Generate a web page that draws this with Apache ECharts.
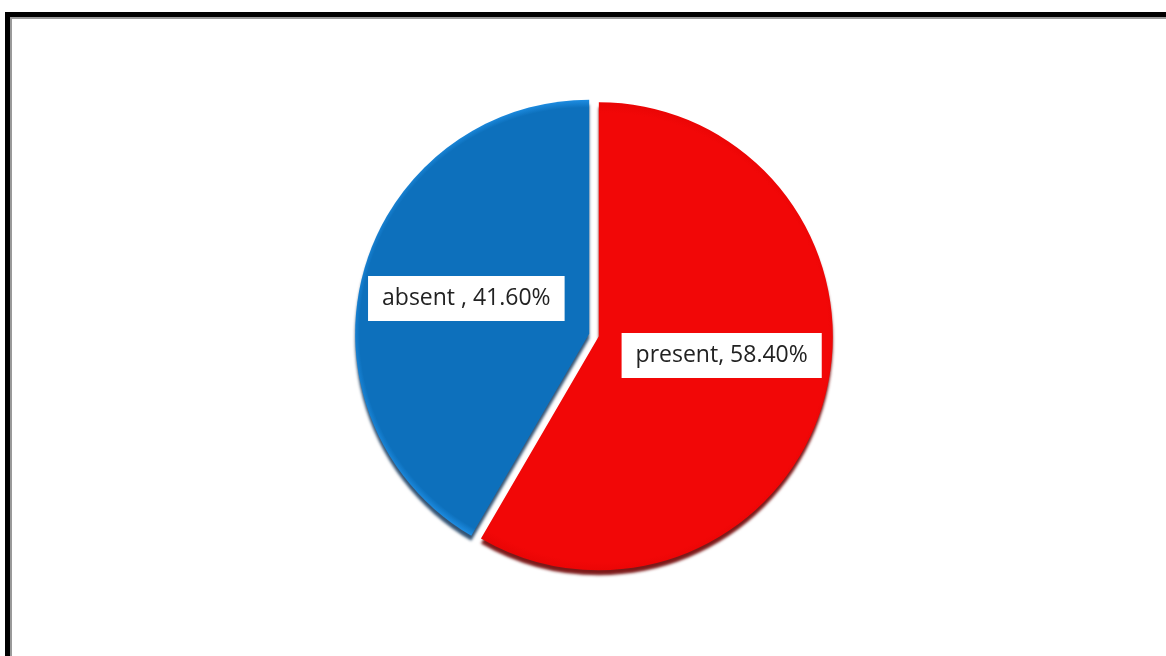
<!DOCTYPE html>
<html>
<head>
<meta charset="utf-8">
<script src="https://cdn.jsdelivr.net/npm/echarts@6/dist/echarts.min.js"></script>
<style>
body { margin: 0; background: #fff; }
#frame { position: absolute; left: 5px; top: 12px; width: 1161px; height: 644px;
	border-top: 5px solid #000; border-left: 5px solid #000; box-sizing: border-box; }
#frame div { width: 100%; height: 100%; border-top: 2px solid #9a9a9a; border-left: 2px solid #9a9a9a; box-sizing: border-box; }
#main { position: absolute; left: 0; top: 0; width: 1166px; height: 656px; }
</style>
</head>
<body>
<div id="frame"><div></div></div>
<div id="main"></div>
<script>
var categories = ['present', 'absent '];
var values = [58.40, 41.60];
var colors = [
	{ inner: '#f20707', outer: '#ea0505', shadow: 'rgba(110,0,0,0.9)' },
	{ inner: '#0d70bc', outer: '#2193ea', shadow: 'rgba(0,40,80,0.8)' }
];
var labelShift = [[7, -12], [-7, -4]];
var centerX = 594, centerY = 335, rad = 234;

var myChart = echarts.init(document.getElementById('main'));

var pieData = [];
for (var i = 0; i < categories.length; i++) {
	var dx = i == 0 ? 5 : -5, dy = i == 0 ? 1.3 : -1.3;
	pieData.push({
		name: categories[i],
		value: values[i],
		selected: true,
		itemStyle: {
			color: {
				type: 'radial', x: centerX + dx, y: centerY + dy, r: rad, global: true,
				colorStops: [
					{ offset: 0, color: colors[i].inner },
					{ offset: 0.96, color: colors[i].inner },
					{ offset: 1, color: colors[i].outer }
				]
			},
			shadowColor: colors[i].shadow,
			shadowBlur: 3,
			shadowOffsetY: 5
		}
	});
}

var option = {
	animation: false,
	series: [{
		type: 'pie',
		center: [centerX, centerY],
		radius: rad,
		startAngle: 90,
		clockwise: true,
		selectedMode: 'multiple',
		selectedOffset: 5,
		silent: true,
		label: {
			show: true,
			position: 'inside',
			color: '#222',
			fontFamily: 'Open Sans',
			fontSize: 23,
			backgroundColor: '#fff',
			padding: [11, 14, 11, 14],
			formatter: function(p) {
				return p.name + ', ' + p.value.toFixed(2) + '%';
			}
		},
		labelLayout: function(p) {
			return { dx: labelShift[p.dataIndex][0], dy: labelShift[p.dataIndex][1] };
		},
		labelLine: { show: false },
		data: pieData
	}]
};
myChart.setOption(option);
</script>
</body>
</html>
